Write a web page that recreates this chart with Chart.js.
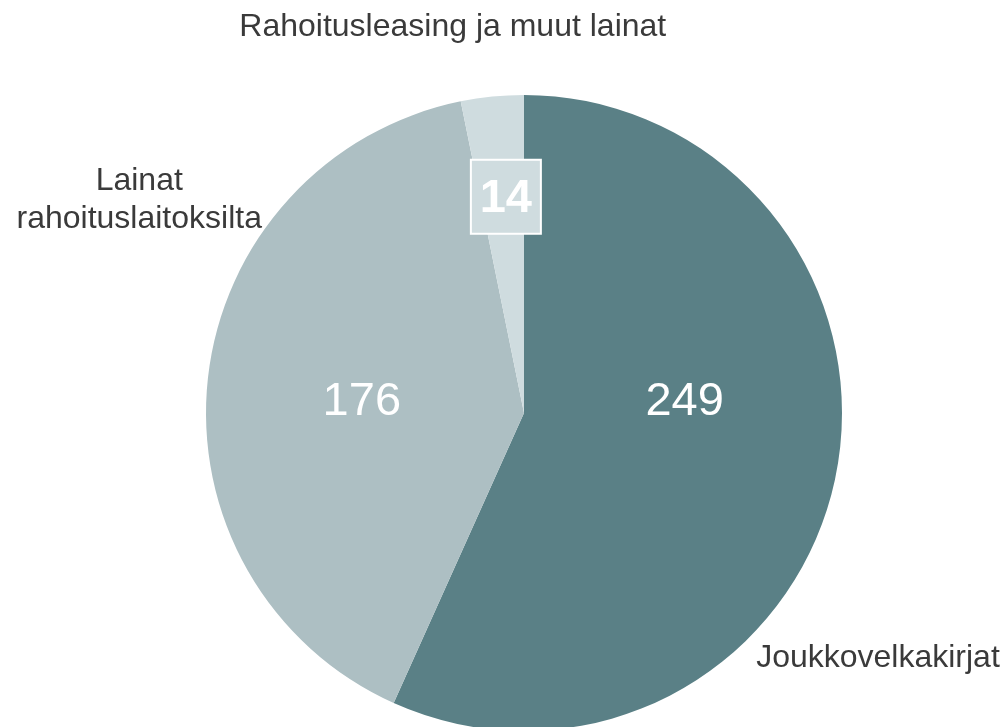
<!DOCTYPE html>
<html>
<head>
<meta charset="utf-8">
<script src="https://cdn.jsdelivr.net/npm/chart.js@4.4.0/dist/chart.umd.min.js"></script>
<style>
  html, body { margin: 0; padding: 0; background: #ffffff; overflow: hidden; }
  #wrap { position: absolute; left: 0; top: 0; width: 1005px; height: 740px; }
</style>
</head>
<body>
<div id="wrap"><canvas id="c" width="1005" height="740"></canvas></div>
<script>
const categories = ["Joukkovelkakirjat", "Lainat\nrahoituslaitoksilta", "Rahoitusleasing ja muut lainat"];
const values = [249, 176, 14];
const colors = ["#5a8086", "#adbfc3", "#cfdcdf"];

// label placement, as fractions of the pie radius relative to its centre
const catLabelPos = [
  { dx: 0.73, dy: 0.772, align: "left" },
  { dx: -1.21, dy: -0.67, align: "center" },
  { dx: -0.224, dy: -1.212, align: "center" }
];
const valLabelPos = [
  { dx: 0.505, dy: -0.04, bold: false, box: false },
  { dx: -0.51, dy: -0.04, bold: false, box: false },
  { dx: -0.057, dy: -0.68, bold: true, box: true }
];

const labelPlugin = {
  id: "labels",
  afterDatasetsDraw(chart) {
    const ctx = chart.ctx;
    const meta = chart.getDatasetMeta(0);
    meta.data.forEach((arc, i) => {
      const r = arc.outerRadius;
      const cx = arc.x, cy = arc.y;
      // category labels
      const cp = catLabelPos[i];
      ctx.save();
      ctx.fillStyle = "#3a3a3a";
      ctx.font = "32px 'Liberation Sans', Arial, sans-serif";
      ctx.textAlign = cp.align;
      ctx.textBaseline = "middle";
      const lines = categories[i].split("\n");
      const lh = 38;
      const x0 = cx + cp.dx * r;
      const y0 = cy + cp.dy * r - (lines.length - 1) * lh / 2;
      lines.forEach((ln, k) => ctx.fillText(ln, x0, y0 + k * lh));
      ctx.restore();
      // value labels
      const vp = valLabelPos[i];
      const vx = cx + vp.dx * r, vy = cy + vp.dy * r;
      ctx.save();
      ctx.font = (vp.bold ? "bold " : "") + "47px 'Liberation Sans', Arial, sans-serif";
      ctx.textAlign = "center";
      ctx.textBaseline = "middle";
      if (vp.box) {
        const w = 70, h = 74;
        ctx.fillStyle = colors[i];
        ctx.fillRect(vx - w / 2, vy - h / 2, w, h);
        ctx.strokeStyle = "#ffffff";
        ctx.lineWidth = 2;
        ctx.strokeRect(vx - w / 2, vy - h / 2, w, h);
      }
      ctx.fillStyle = "#ffffff";
      ctx.fillText(String(values[i]), vx, vy + 2);
      ctx.restore();
    });
  }
};

new Chart(document.getElementById("c"), {
  type: "pie",
  data: {
    labels: categories,
    datasets: [{ data: values, backgroundColor: colors, borderWidth: 0 }]
  },
  options: {
    responsive: false,
    animation: false,
    layout: { padding: { left: 206, right: 163, top: 95, bottom: 9 } },
    plugins: { legend: { display: false }, tooltip: { enabled: false } }
  },
  plugins: [labelPlugin]
});
</script>
</body>
</html>
